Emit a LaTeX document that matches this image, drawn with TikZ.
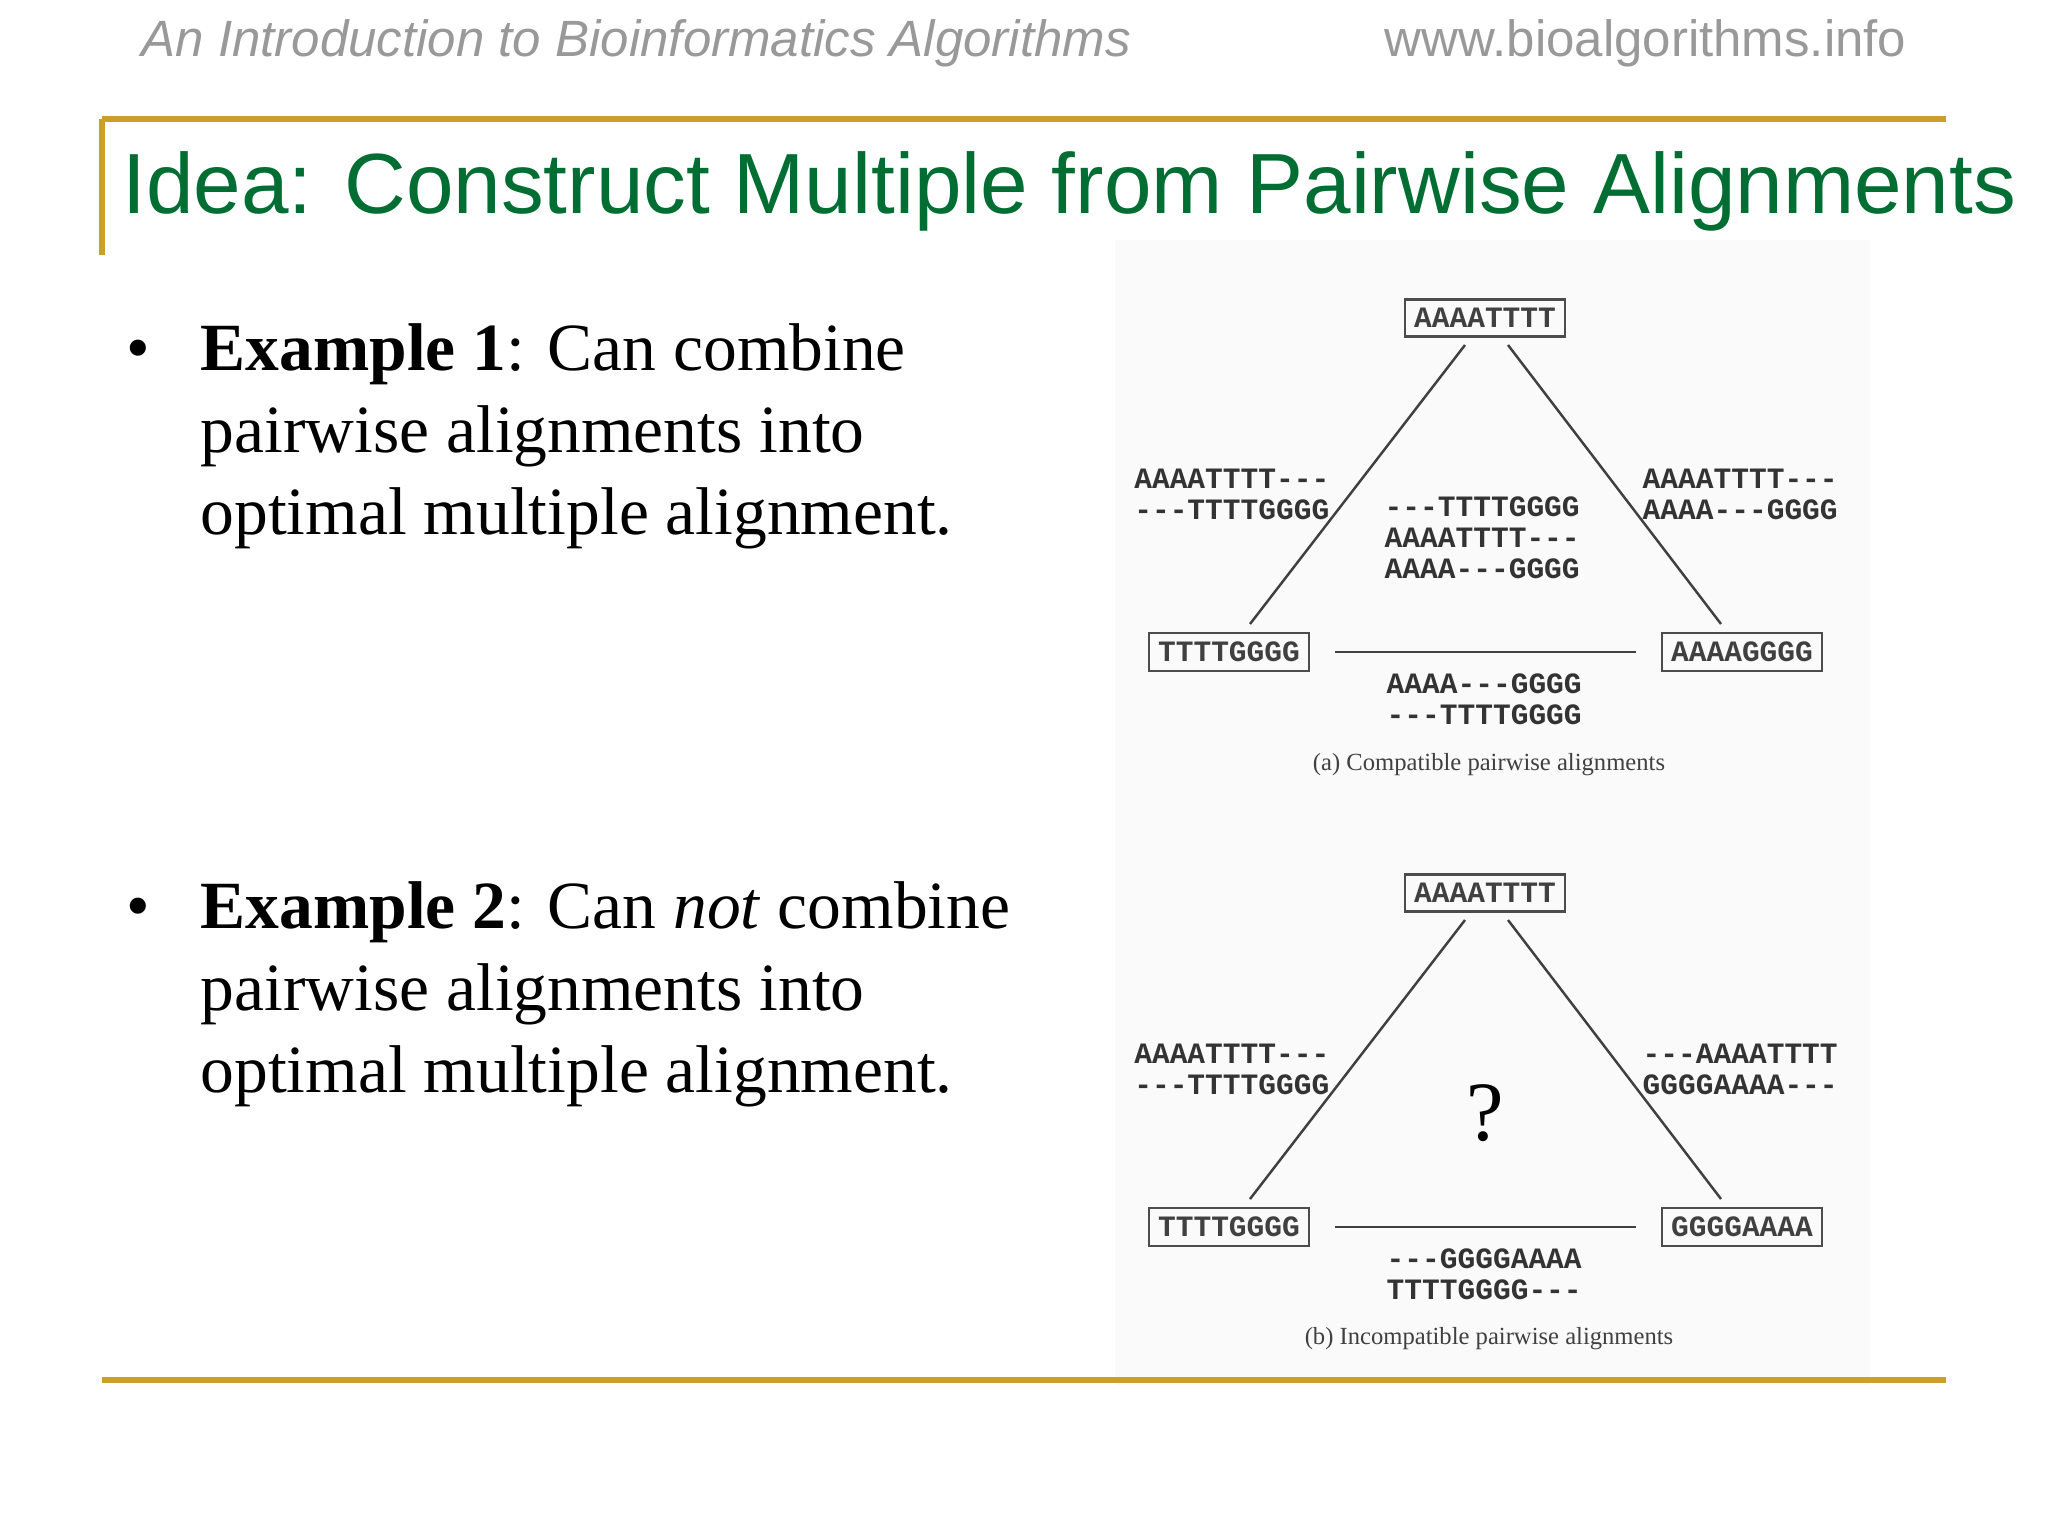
\documentclass[tikz,border=0pt]{standalone}
\usepackage{fontspec}
\setmainfont{Liberation Serif}
\newfontfamily\hsans{Liberation Sans}
\newfontfamily\seqf{Liberation Mono}
\begin{document}
\begin{tikzpicture}[x=0.01cm,y=-0.01cm,
  gold/.style={draw={rgb,255:red,204;green,160;blue,40},line width=1.6pt},
  seqbox/.style={draw=black!70,line width=0.6pt,inner sep=2.5pt,font=\seqf\bfseries\fontsize{8.4}{10}\selectfont,text=black!75},
  seqlbl/.style={font=\seqf\bfseries\fontsize{8.4}{8.8}\selectfont,inner sep=0pt,text=black!80},
  edge/.style={draw=black!75,line width=0.7pt},
  capt/.style={font=\fontsize{7}{8}\selectfont,text=black!75},
  bul/.style={anchor=base west,inner sep=0pt,font=\fontsize{19.2}{23}\selectfont}]
\useasboundingbox (0,0) rectangle (2048,1536);
\fill[white] (0,0) rectangle (2048,1536);
\fill[black!2] (1115,240) rectangle (1870,1385);
\node[anchor=base west,inner sep=0,text=black!40,font=\hsans\itshape\fontsize{14.5}{17}\selectfont] (h1) at (141,56) {An Introduction to Bioinformatics Algorithms};
\node[anchor=base east,inner sep=0,text=black!40,font=\hsans\fontsize{14.5}{17}\selectfont] (h2) at (1907,56) {www.bioalgorithms.info};
\draw[gold] (102,119) -- (1946,119);
\draw[gold] (102,119) -- (102,255);
\draw[gold] (102,1380) -- (1946,1380);
\node[anchor=base west,inner sep=0,text={rgb,255:red,0;green,110;blue,50},font=\hsans\fontsize{24.3}{28}\selectfont] (title) at (122,213) {Idea: Construct Multiple from Pairwise Alignments};
% bullets
\node[bul] (b1) at (126,370) {•};
\node[bul] (t1a) at (200,370) {\textbf{Example 1}: Can combine};
\node[bul] (t1b) at (200,452) {pairwise alignments into};
\node[bul] (t1c) at (200,534) {optimal multiple alignment.};
\node[bul] (b2) at (126,928) {•};
\node[bul] (t2a) at (200,928) {\textbf{Example 2}: Can \textit{not} combine};
\node[bul] (t2b) at (200,1010) {pairwise alignments into};
\node[bul] (t2c) at (200,1092) {optimal multiple alignment.};
% diagram a
\node[seqbox] (a1) at (1485,318) {AAAATTTT};
\node[seqbox] (a2) at (1229,652) {TTTTGGGG};
\node[seqbox] (a3) at (1742,652) {AAAAGGGG};
\coordinate (al1) at (1465,345); \coordinate (al2) at (1250,624);
\coordinate (ar1) at (1508,345); \coordinate (ar2) at (1721,624);
\draw[edge] (al1) -- (al2); \draw[edge] (ar1) -- (ar2);
\draw[edge] (a2.east)++(25,0) coordinate (ab1) (a3.west)++(-25,0) coordinate (ab2);
\draw[edge] (ab1) -- (ab2);
\node[seqlbl,anchor=east,align=right] (la) at (1330,494) {AAAATTTT---\\---TTTTGGGG};
\node[seqlbl,anchor=west,align=left] (ra) at (1642,494) {AAAATTTT---\\AAAA---GGGG};
\node[seqlbl,anchor=west,align=left] (ca) at (1384,538) {---TTTTGGGG\\AAAATTTT---\\AAAA---GGGG};
\node[seqlbl,anchor=west,align=left] (ba) at (1386,699) {AAAA---GGGG\\---TTTTGGGG};
\node[capt] (capa) at (1489,765) {(a) Compatible pairwise alignments};
% diagram b
\node[seqbox] (b1n) at (1485,893) {AAAATTTT};
\node[seqbox] (b2n) at (1229,1227) {TTTTGGGG};
\node[seqbox] (b3n) at (1742,1227) {GGGGAAAA};
\coordinate (bl1) at (1465,920); \coordinate (bl2) at (1250,1199);
\coordinate (br1) at (1508,920); \coordinate (br2) at (1721,1199);
\draw[edge] (bl1) -- (bl2); \draw[edge] (br1) -- (br2);
\draw[edge] (b2n.east)++(25,0) coordinate (bb1) (b3n.west)++(-25,0) coordinate (bb2);
\draw[edge] (bb1) -- (bb2);
\node[seqlbl,anchor=east,align=right] (lb) at (1330,1069) {AAAATTTT---\\---TTTTGGGG};
\node[seqlbl,anchor=west,align=left] (rb) at (1642,1069) {---AAAATTTT\\GGGGAAAA---};
\node[font=\fontsize{24}{26}\selectfont] (q) at (1485,1113) {?};
\node[seqlbl,anchor=west,align=left] (bbl) at (1386,1274) {---GGGGAAAA\\TTTTGGGG---};
\node[capt] (capb) at (1489,1339) {(b) Incompatible pairwise alignments};
\end{tikzpicture}
\end{document}
